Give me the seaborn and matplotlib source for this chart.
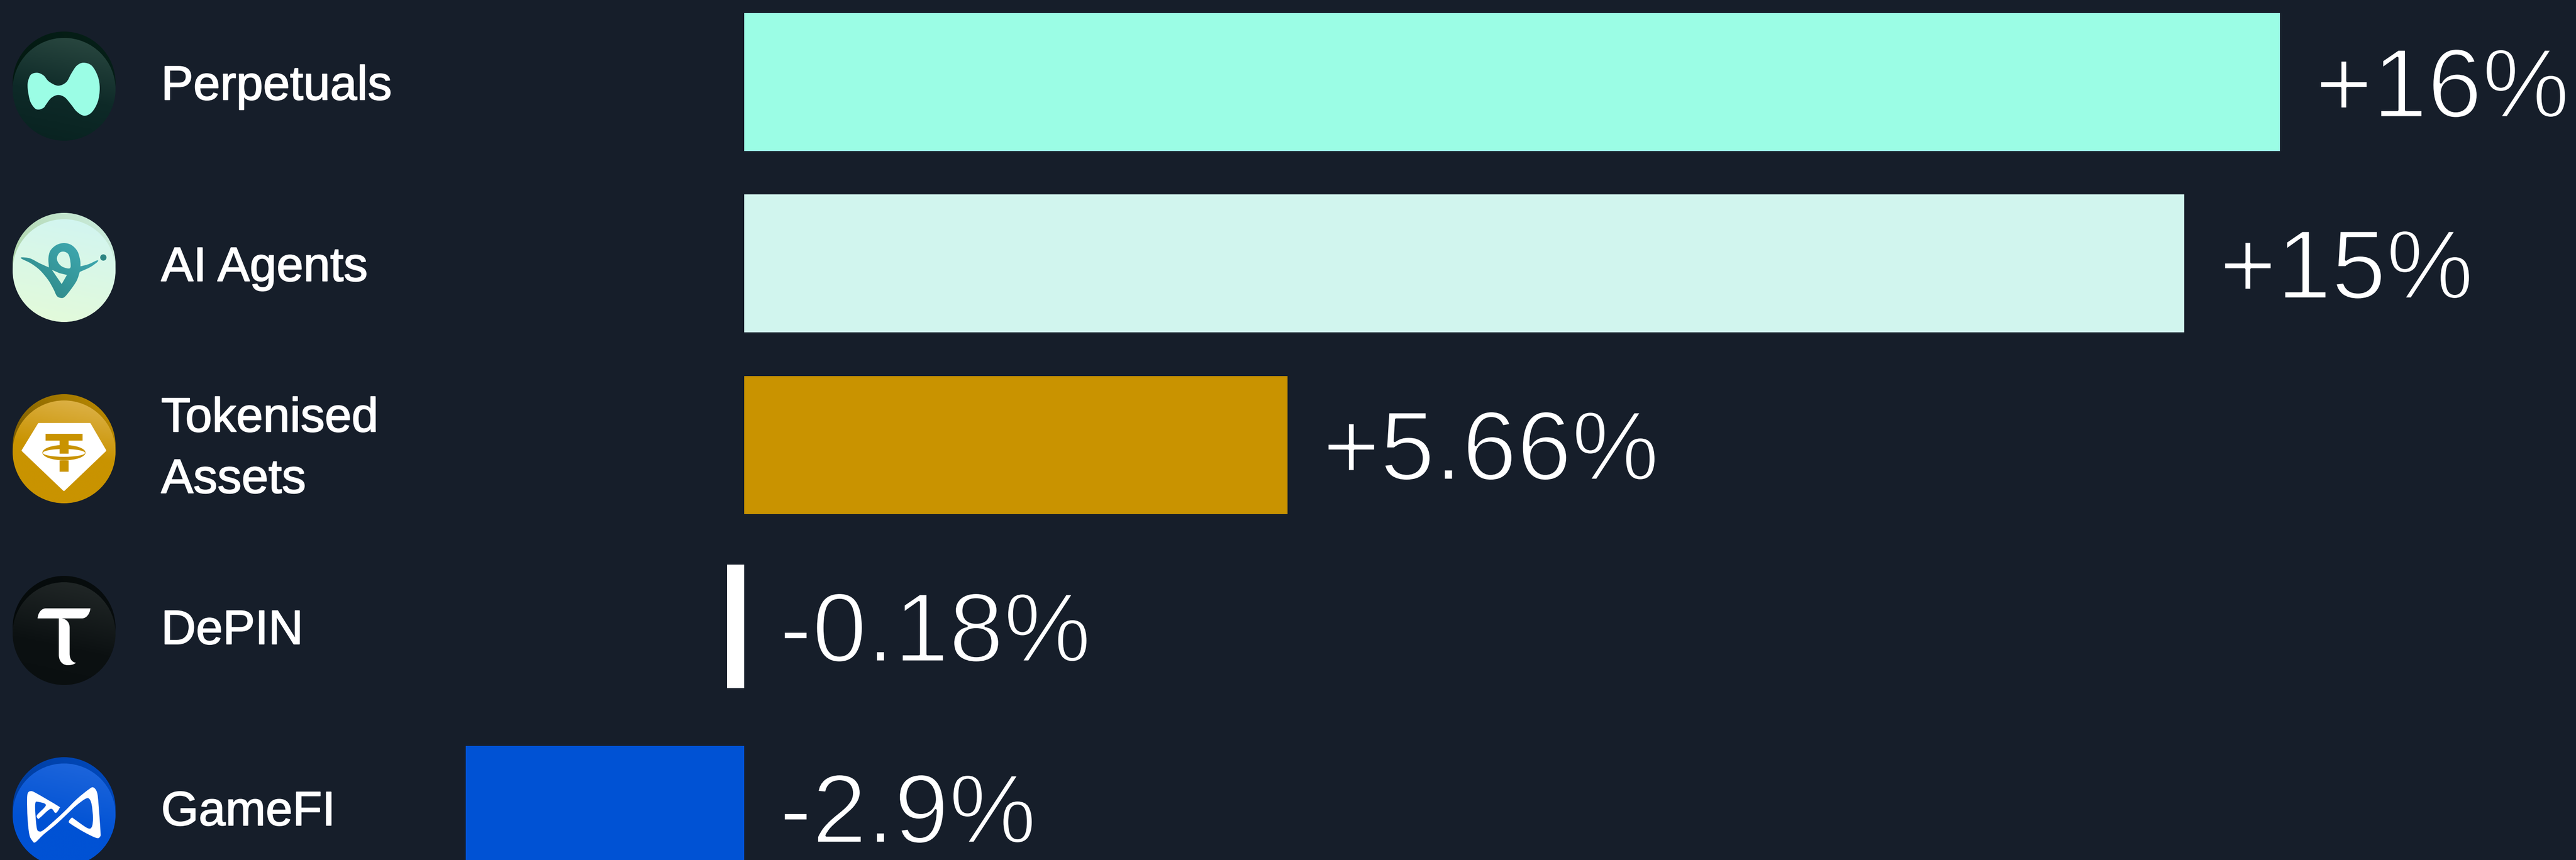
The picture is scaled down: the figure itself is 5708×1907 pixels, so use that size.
import matplotlib
matplotlib.use('Agg')
import matplotlib.pyplot as plt
import matplotlib.patheffects as pe
import numpy as np
import pandas as pd
import seaborn as sns
from matplotlib.colors import LinearSegmentedColormap
from matplotlib.path import Path
from matplotlib.patches import PathPatch
from matplotlib.transforms import Affine2D

W, H = 5708, 1908
BG = '#161e2a'

categories = ['Perpetuals', 'AI Agents', 'Tokenised\nAssets', 'DePIN', 'GameFI']
changes = [16, 15, 5.66, -0.18, -2.9]
value_labels = ['+16%', '+15%', '+5.66%', '-0.18%', '-2.9%']
bar_colors = ['#9bfde5', '#d1f5ee', '#c99300', '#ffffff', '#0052d4']

# layout, in pixels of the full size image
ROW_CENTRES = [183, 585, 988, 1390, 1808]
ICON_TOPS = [71, 473, 875, 1278, 1680]
ZERO_X = 1649
PX_PER_PCT = 212.7

CROP_TOPS = [50, 450, 850, 1250, 1658]

PERP_SHAPE = [(185, 450), (185, 400), (205, 350), (248, 337), (290, 355), (325, 395), (385, 423), (440, 400), (475, 340),
	(510, 290), (555, 270), (610, 290), (650, 360), (663, 440), (650, 530), (610, 600), (560, 623), (510, 595),
	(470, 545), (430, 500), (385, 485), (340, 505), (305, 550), (290, 570), (258, 582), (230, 572), (200, 525)]
AI_OUTER = [(143, 365), (200, 372), (265, 405), (325, 432), (325, 432), (322, 370), (335, 320), (375, 283), (425, 270),
	(475, 283), (515, 325), (533, 385), (535, 425), (535, 425), (590, 410), (645, 385), (648, 395), (600, 430),
	(530, 462), (530, 462), (510, 520), (470, 580), (430, 628), (405, 635), (378, 622), (355, 575), (320, 515),
	(265, 450), (205, 405), (145, 375)]
AI_LOOP = [(378, 370), (390, 405), (420, 430), (465, 437), (468, 395), (455, 345), (425, 327), (395, 335)]
AI_NOTCH = [(410, 543), (445, 482), (395, 470), (345, 448)]
TETHER_GEM = [(258, 273), (597, 273), (700, 450), (425, 713), (150, 450)]
T_SEGMENTS = [[(250, 367)], [(252, 330), (275, 300), (305, 300)], [(601, 300)], [(597, 340), (572, 367), (545, 367)], [(410, 367)],
	[(445, 372), (463, 395), (463, 430)], [(463, 600)], [(463, 640), (480, 658), (505, 662)],
	[(490, 675), (470, 678), (450, 678)], [(415, 678), (391, 650), (391, 610)], [(391, 367)], [(250, 367)]]
GAME_SHAPE = [(205, 292), (240, 305), (385, 390), (395, 405), (378, 432), (365, 435), (335, 410), (262, 472), (250, 472),
	(247, 450), (305, 385), (252, 363), (235, 372), (235, 440), (245, 540), (262, 560), (290, 550), (360, 490),
	(430, 425), (510, 345), (590, 280), (620, 267), (645, 300), (655, 380), (668, 560), (665, 595), (640, 603),
	(560, 565), (470, 510), (458, 492), (478, 468), (490, 475), (580, 537), (610, 530), (618, 470), (610, 385),
	(595, 345), (570, 342), (510, 385), (440, 450), (370, 515), (290, 580), (235, 632), (215, 622), (195, 580),
	(183, 470), (180, 350), (185, 305)]


def to_px(pts, crop_top):
	return np.array(pts, dtype=float) / 3 + [0, crop_top]


def smooth(pts, crop_top):
	# closed catmull-rom through the traced points
	p = to_px(pts, crop_top)
	n = len(p)
	verts = [p[0]]
	codes = [Path.MOVETO]
	for i in range(n):
		p0, p1, p2, p3 = p[i - 1], p[i], p[(i + 1) % n], p[(i + 2) % n]
		verts += [p1 + (p2 - p0) / 6, p2 - (p3 - p1) / 6, p2]
		codes += [Path.CURVE4] * 3
	verts.append(p[0])
	codes.append(Path.CLOSEPOLY)
	return Path(verts, codes)


def outline(segments, crop_top):
	# one point is a straight line, three points a bezier
	verts = list(to_px(segments[0], crop_top))
	codes = [Path.MOVETO]
	for seg in segments[1:]:
		verts += list(to_px(seg, crop_top))
		codes += [Path.LINETO] if len(seg) == 1 else [Path.CURVE4] * 3
	return Path(verts, codes)


def polygon(pts, crop_top):
	return Path(np.vstack([to_px(pts, crop_top), [[0, 0]]]), closed=True)


def circle(cx, cy, rx, ry=None):
	return Path.unit_circle().transformed(Affine2D().scale(rx, ry or rx).translate(cx, cy))


def gradient_fill(ax, path, stops, angle=0, zorder=2):
	x0, y0, x1, y1 = path.get_extents().extents
	xx, yy = np.meshgrid(np.linspace(x0, x1, 256), np.linspace(y0, y1, 256))
	a = np.radians(angle)
	t = xx * np.sin(a) + yy * np.cos(a)
	t = (t - t.min()) / (t.max() - t.min())
	cmap = LinearSegmentedColormap.from_list('g', stops)
	im = ax.imshow(t, cmap=cmap, extent=(x0, x1, y1, y0), origin='upper', aspect='auto', interpolation='bilinear', zorder=zorder)
	im.set_clip_path(path, transform=ax.transData)


def flat_fill(ax, path, color, lw=0, zorder=3):
	ax.add_patch(PathPatch(path, facecolor=color, edgecolor=color, linewidth=lw, joinstyle='round', zorder=zorder))


def draw_disc(ax, top, back, front, front_angle=-12):
	gradient_fill(ax, circle(142, top + 114, 114), back, angle=-60, zorder=1)
	gradient_fill(ax, circle(142, top + 128, 114), front, angle=front_angle, zorder=2)


def draw_icons(ax):
	draw_disc(ax, ICON_TOPS[0], ['#062019', '#03170f'], [(0, '#2c4a42'), (0.55, '#0e2a28'), (1, '#082220')])
	flat_fill(ax, smooth(PERP_SHAPE, CROP_TOPS[0]), '#9bfde5')

	draw_disc(ax, ICON_TOPS[1], ['#cdeee2', '#a9cf9f'], ['#d1f5f2', '#e4fbd9'])
	ai = Path.make_compound_path(smooth(AI_OUTER, CROP_TOPS[1]), smooth(AI_LOOP, CROP_TOPS[1]), polygon(AI_NOTCH, CROP_TOPS[1]))
	gradient_fill(ax, ai, ['#41adb6', '#2c8482'], angle=-35, zorder=3)
	flat_fill(ax, circle(229, CROP_TOPS[1] + 122, 7), '#2c8482')

	draw_disc(ax, ICON_TOPS[2], ['#c08e00', '#6e5200'], [(0, '#dfb550'), (0.5, '#c99300'), (1, '#c99300')])
	crop = CROP_TOPS[2]
	flat_fill(ax, polygon(TETHER_GEM, crop), 'white', lw=3)
	flat_fill(ax, circle(141.7, crop + 154.7, 47.7, 17), '#c99300', zorder=4)
	flat_fill(ax, circle(141.7, crop + 155.3, 46.7, 8.7), 'white', zorder=5)
	for (x0, y0, x1, y1) in [(303, 340, 548, 385), (395, 385, 456, 470), (395, 515, 456, 590)]:
		flat_fill(ax, polygon([(x0, y0), (x1, y0), (x1, y1), (x0, y1)], crop), '#c99300', zorder=6)

	draw_disc(ax, ICON_TOPS[3], ['#080d0e', '#050a0a'], [(0, '#232929'), (0.6, '#0c1112'), (1, '#0a0f10')])
	flat_fill(ax, outline(T_SEGMENTS, CROP_TOPS[3]), 'white')

	draw_disc(ax, ICON_TOPS[4], ['#0049bd', '#003a96'], [(0, '#2067dc'), (0.6, '#0052d4'), (1, '#0052d4')])
	flat_fill(ax, smooth(GAME_SHAPE, CROP_TOPS[4]), 'white')


def create_plot():
	sns.set_theme(style='white', rc={'figure.facecolor': BG, 'axes.facecolor': BG})
	fig = plt.figure(figsize=(W / 100, H / 100), dpi=100)
	ax = fig.add_axes([0, 0, 1, 1])

	df = pd.DataFrame({'category': categories, 'change': changes, 'row': ROW_CENTRES})
	sns.barplot(data=df, x='change', y='row', hue='category', palette=bar_colors, orient='y', native_scale=True,
		width=306 / 402, dodge=False, saturation=1, linewidth=0, legend=False, ax=ax)

	# the DePIN bar is shorter than the others
	for bar, name in zip(ax.patches, categories):
		if name == 'DePIN':
			bar.set_y(1253)
			bar.set_height(274)

	ax.set_xlim(-ZERO_X / PX_PER_PCT, (W - ZERO_X) / PX_PER_PCT)
	ax.set_ylim(H, 0)
	ax.axis('off')

	# value labels sit a fixed distance past the end of the bar, the stroke in the
	# background colour thins Liberation down to the light weight of the original
	thin = [pe.Stroke(linewidth=3.6, foreground=BG)]
	for value, text, top in zip(changes, value_labels, ICON_TOPS):
		ax.annotate(text, xy=(max(value, 0), top + 190), xytext=(56, 0), textcoords='offset points',
			color='white', fontsize=157, family='Liberation Sans', va='baseline', ha='left', path_effects=thin)

	px = fig.add_axes([0, 0, 1, 1], facecolor='none')
	draw_icons(px)
	bold = [pe.Stroke(linewidth=1.6, foreground='white')]
	for name, top in zip(categories, ICON_TOPS):
		lines = name.split('\n')
		for i, line in enumerate(lines):
			y = top + 151 + (i - (len(lines) - 1) / 2) * 136
			px.text(357, y, line, color='white', fontsize=77, family='Liberation Sans', va='baseline', ha='left', path_effects=bold)
	px.set_xlim(0, W)
	px.set_ylim(H, 0)
	px.axis('off')

	plt.savefig('out.png', dpi=100, facecolor=BG)


create_plot()
